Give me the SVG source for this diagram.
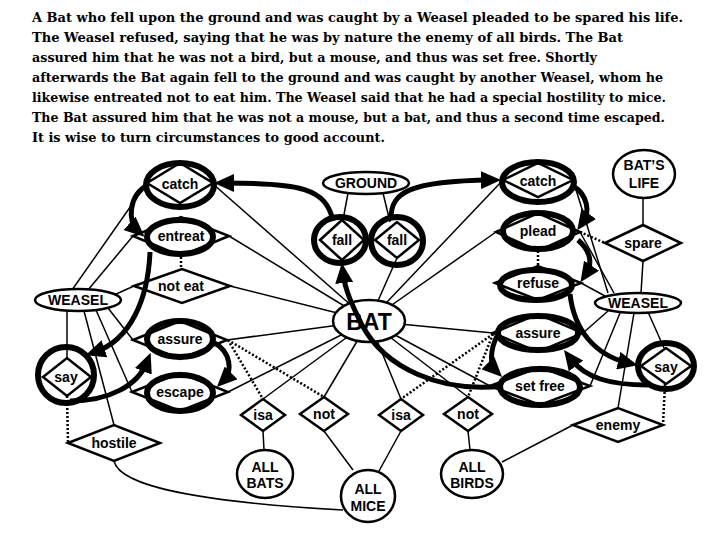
<svg xmlns="http://www.w3.org/2000/svg" width="720" height="540" viewBox="0 0 720 540">
<defs>
<marker id="ah" markerUnits="userSpaceOnUse" markerWidth="20" markerHeight="18" viewBox="0 0 20 18" refX="10" refY="9" orient="auto"><path d="M0,0 L20,9 L0,18 z" fill="#000"/></marker>
<style>
.para{font-family:"DejaVu Serif","Liberation Serif",serif;font-weight:bold;font-size:13px;fill:#000}
.thin{stroke:#000;stroke-width:1.5;fill:none}
.dot{stroke:#000;stroke-width:2.5;stroke-dasharray:2 2;fill:none}
.thick{stroke:#000;stroke-width:5;fill:none;marker-end:url(#ah)}
.dia{fill:#fff;stroke:#000;stroke-width:2.5;stroke-linejoin:miter}
.ring{fill:none;stroke:#000;stroke-width:6}
.ell{fill:#fff;stroke:#000;stroke-width:2.5}
.lbl{font-family:"Liberation Sans",Arial,sans-serif;font-weight:bold;font-size:14px;text-anchor:middle;fill:#000}
</style>
</defs>
<rect width="720" height="540" fill="#fff"/>
<g id="story" class="para" xml:space="preserve">
<text x="32" y="22" textLength="651" lengthAdjust="spacingAndGlyphs">A Bat who fell upon the ground and was caught by a Weasel pleaded to be spared his life.</text>
<text x="32" y="42" textLength="591" lengthAdjust="spacingAndGlyphs">The Weasel refused, saying that he was by nature the enemy of all birds.  The Bat</text>
<text x="32" y="62" textLength="565" lengthAdjust="spacingAndGlyphs">assured him that he was not a bird, but a mouse, and thus was set free.  Shortly</text>
<text x="32" y="82" textLength="631" lengthAdjust="spacingAndGlyphs">afterwards the Bat again fell to the ground and was caught by another Weasel, whom he</text>
<text x="32" y="102" textLength="634" lengthAdjust="spacingAndGlyphs">likewise entreated not to eat him.  The Weasel said that he had a special hostility to mice.</text>
<text x="32" y="122" textLength="633" lengthAdjust="spacingAndGlyphs">The Bat assured him that he was not a mouse, but a bat, and thus a second time escaped.</text>
<text x="32" y="142" textLength="353" lengthAdjust="spacingAndGlyphs">It is wise to turn circumstances to good account.</text>
</g>
<g id="connectors">
<g class="thin">
<line x1="213" y1="184" x2="369" y2="321"/>
<line x1="229" y1="236" x2="369" y2="321"/>
<line x1="230" y1="286" x2="369" y2="321"/>
<line x1="227" y1="340" x2="369" y2="321"/>
<line x1="228" y1="392" x2="369" y2="321"/>
<line x1="369" y1="321" x2="263" y2="399"/>
<line x1="369" y1="321" x2="324" y2="397"/>
<line x1="369" y1="321" x2="401" y2="399"/>
<line x1="369" y1="321" x2="468" y2="397"/>
<line x1="503" y1="180" x2="369" y2="321"/>
<line x1="496" y1="232" x2="369" y2="321"/>
<line x1="493" y1="333" x2="369" y2="321"/>
<line x1="490" y1="386" x2="369" y2="321"/>
<line x1="397" y1="258" x2="369" y2="321"/>
<line x1="348" y1="193" x2="343" y2="220"/>
<line x1="383" y1="193" x2="390" y2="222"/>
<line x1="72" y1="290" x2="147" y2="183"/>
<line x1="88" y1="290" x2="133" y2="236"/>
<line x1="114" y1="295" x2="134" y2="286"/>
<line x1="108" y1="308" x2="133" y2="340"/>
<line x1="67" y1="311" x2="67" y2="358"/>
<line x1="84" y1="311" x2="114" y2="425"/>
<line x1="96" y1="310" x2="132" y2="392"/>
<path d="M114,461 C120,487 200,502 343,510"/>
<line x1="263" y1="431" x2="264" y2="450"/>
<line x1="324" y1="431" x2="353" y2="470"/>
<line x1="401" y1="431" x2="379" y2="471"/>
<line x1="468" y1="431" x2="470" y2="450"/>
<line x1="502" y1="462" x2="573" y2="425"/>
<line x1="634" y1="313" x2="618" y2="408"/>
<line x1="648" y1="312" x2="664" y2="348"/>
<line x1="608" y1="311" x2="583" y2="333"/>
<line x1="620" y1="313" x2="590" y2="386"/>
<line x1="605" y1="296" x2="581" y2="283"/>
<line x1="608" y1="293" x2="573" y2="180"/>
<line x1="614" y1="293" x2="580" y2="232"/>
<line x1="643" y1="261" x2="641" y2="293"/>
<line x1="643" y1="198" x2="643" y2="225"/>
</g>
<g class="dot">
<line x1="181" y1="257" x2="181" y2="269"/>
<line x1="538" y1="251" x2="538" y2="267"/>
<line x1="580" y1="232" x2="605" y2="243"/>
<line x1="67" y1="396" x2="68" y2="443"/>
<line x1="665" y1="384" x2="663" y2="425"/>
<line x1="228" y1="340" x2="263" y2="399"/>
<line x1="228" y1="340" x2="324" y2="397"/>
<line x1="493" y1="334" x2="401" y2="399"/>
<line x1="493" y1="334" x2="468" y2="397"/>
</g>
</g>
<g id="nodes">
<g id="catch-l"><polygon class="dia" points="147,183 180,163 213,183 180,203"/><ellipse class="ring" cx="180" cy="185" rx="34" ry="22"/><text class="lbl" x="180" y="189">catch</text></g>
<g id="entreat"><polygon class="dia" points="133,236 181,217 229,236 181,256"/><ellipse class="ring" cx="180" cy="237" rx="33" ry="17"/><text class="lbl" x="181" y="241">entreat</text></g>
<g id="not-eat"><polygon class="dia" points="134,286 182,269 230,286 182,303"/><text class="lbl" x="181" y="291">not eat</text></g>
<g id="weasel-l"><ellipse class="ell" cx="78" cy="300" rx="43" ry="11"/><text class="lbl" x="78" y="305">WEASEL</text></g>
<g id="assure-l"><polygon class="dia" points="133,340 180,321 227,340 180,359"/><ellipse class="ring" cx="180" cy="339" rx="33" ry="18"/><text class="lbl" x="180" y="344">assure</text></g>
<g id="say-l"><polygon class="dia" points="43,377 67,358 91,377 67,396"/><ellipse class="ring" cx="66" cy="375" rx="28" ry="28"/><text class="lbl" x="66" y="382">say</text></g>
<g id="escape"><polygon class="dia" points="132,392 180,373 228,392 180,411"/><ellipse class="ring" cx="180" cy="393" rx="33" ry="18"/><text class="lbl" x="180" y="397">escape</text></g>
<g id="hostile"><polygon class="dia" points="68,443 114,425 160,443 114,461"/><text class="lbl" x="114" y="448">hostile</text></g>
<g id="isa-l"><polygon class="dia" points="241,415 263,399 285,415 263,431"/><text class="lbl" x="263" y="420">isa</text></g>
<g id="not-l"><polygon class="dia" points="300,414 324,397 348,414 324,431"/><text class="lbl" x="324" y="419">not</text></g>
<g id="all-bats"><ellipse class="ell" cx="265" cy="474" rx="28" ry="24"/><text class="lbl" x="265" y="472">ALL</text><text class="lbl" x="265" y="488">BATS</text></g>
<g id="all-mice"><ellipse class="ell" cx="368" cy="496" rx="27" ry="26"/><text class="lbl" x="368" y="494">ALL</text><text class="lbl" x="368" y="511">MICE</text></g>
<g id="isa-r"><polygon class="dia" points="379,415 401,399 423,415 401,431"/><text class="lbl" x="401" y="420">isa</text></g>
<g id="not-r"><polygon class="dia" points="444,414 468,397 492,414 468,431"/><text class="lbl" x="468" y="419">not</text></g>
<g id="all-birds"><ellipse class="ell" cx="472" cy="474" rx="31" ry="24"/><text class="lbl" x="472" y="472">ALL</text><text class="lbl" x="472" y="488">BIRDS</text></g>
<g id="enemy"><polygon class="dia" points="573,425 618,408 663,425 618,442"/><text class="lbl" x="618" y="430">enemy</text></g>
<g id="bat"><ellipse class="ell" cx="369" cy="321" rx="36" ry="21"/><text class="lbl" x="369" y="330" style="font-size:23px">BAT</text></g>
<g id="ground"><ellipse class="ell" cx="366" cy="183" rx="43" ry="11"/><text class="lbl" x="366" y="188">GROUND</text></g>
<g id="fall-l"><polygon class="dia" points="320,240 342,220 364,240 342,260"/><ellipse class="ring" cx="340" cy="240" rx="26" ry="23"/><text class="lbl" x="342" y="245">fall</text></g>
<g id="fall-r"><polygon class="dia" points="375,240 397,222 419,240 397,258"/><ellipse class="ring" cx="397" cy="241" rx="26" ry="24"/><text class="lbl" x="397" y="245">fall</text></g>
<g id="catch-r"><polygon class="dia" points="503,180 538,163 573,180 538,197"/><ellipse class="ring" cx="538" cy="182" rx="36" ry="20"/><text class="lbl" x="538" y="186">catch</text></g>
<g id="plead"><polygon class="dia" points="496,232 538,213 580,232 538,251"/><ellipse class="ring" cx="538" cy="231" rx="35" ry="18"/><text class="lbl" x="538" y="236">plead</text></g>
<g id="refuse"><polygon class="dia" points="495,283 538,266 581,283 538,300"/><ellipse class="ring" cx="536" cy="285" rx="36" ry="15"/><text class="lbl" x="538" y="288">refuse</text></g>
<g id="spare"><polygon class="dia" points="605,243 643,225 681,243 643,261"/><text class="lbl" x="643" y="248">spare</text></g>
<g id="bats-life"><ellipse class="ell" cx="644" cy="174" rx="31" ry="24"/><text class="lbl" x="644" y="170">BAT’S</text><text class="lbl" x="644" y="188">LIFE</text></g>
<g id="weasel-r"><ellipse class="ell" cx="638" cy="303" rx="43" ry="10"/><text class="lbl" x="638" y="308">WEASEL</text></g>
<g id="assure-r"><polygon class="dia" points="493,333 538,314 583,333 538,352"/><ellipse class="ring" cx="538" cy="333" rx="40" ry="17"/><text class="lbl" x="538" y="338">assure</text></g>
<g id="say-r"><polygon class="dia" points="641,366 666,348 691,366 666,384"/><ellipse class="ring" cx="666" cy="366" rx="28" ry="23"/><text class="lbl" x="666" y="372">say</text></g>
<g id="set-free"><polygon class="dia" points="490,386 540,367 590,386 540,405"/><ellipse class="ring" cx="540" cy="387" rx="40" ry="18"/><text class="lbl" x="540" y="391">set free</text></g>
</g>
<g id="sequence" class="thick">
<path d="M391,218 C391,192 410,181 491,180"/>
<path d="M573,186 C588,195 590,212 583,222"/>
<path d="M578,240 C592,252 592,265 586,274"/>
<path d="M570,294 C574,330 595,355 628,363"/>
<path d="M648,385 C610,385 585,378 570,358"/>
<path d="M497,336 C490,350 490,365 495,370"/>
<path d="M503,386 C440,393 385,368 362,325 C352,305 345,290 343,273"/>
<path d="M333,221 C326,188 300,183 224,183"/>
<path d="M148,185 C128,195 128,222 137,230"/>
<path d="M150,252 C148,300 130,340 95,352"/>
<path d="M70,401 C110,401 138,385 147,362"/>
<path d="M213,342 C232,352 232,372 224,380"/>
</g>
</svg>
